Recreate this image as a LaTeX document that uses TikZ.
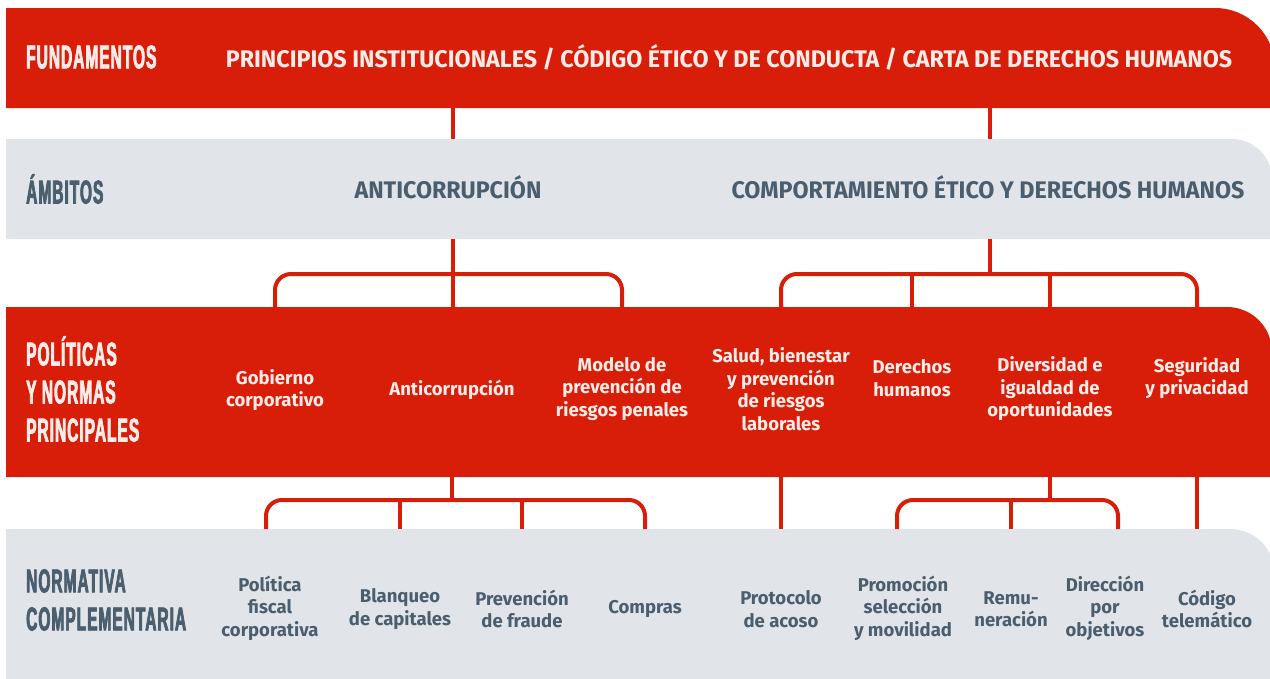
\documentclass[tikz,border=0pt]{standalone}
\usepackage{fontspec}
\setmainfont{Fira Sans}
\newfontfamily\headfont[FakeStretch=0.47, FakeBold=2.2, LetterSpace=3]{Liberation Sans}
\newfontfamily\capsfont[FakeStretch=0.97]{Fira Sans}
\newfontfamily\bodyfont{Fira Sans}
\definecolor{redband}{RGB}{216,30,8}
\definecolor{grayband}{RGB}{225,229,233}
\definecolor{slate}{RGB}{74,94,110}
\definecolor{softwhite}{RGB}{253,236,232}

\begin{document}
\begin{tikzpicture}
[x=1pt, y=-1pt,
link/.style={line width=4pt, draw=redband},
bracket/.style={link, rounded corners=16pt},
head/.style={anchor=west, align=left, inner sep=0pt, font=\headfont\bfseries\fontsize{33}{38}\selectfont},
caps/.style={anchor=base, inner sep=0pt, font=\capsfont\bfseries\fontsize{24}{28}\selectfont},
item/.style={align=center, inner sep=0pt, font=\bodyfont\bfseries\fontsize{18.5}{22.5}\selectfont}]
\useasboundingbox (0,0) rectangle (1270,678);

% bands
\begin{scope}
\clip (0,0) rectangle (1270,678);
\fill[redband] (6,108) -- (6,8) -- (1215,8) arc[start angle=270, end angle=360, radius=60] -- (1275,108) -- cycle;
\fill[grayband] (6,239) -- (6,139) -- (1232,139) arc[start angle=270, end angle=360, radius=40] -- (1272,239) -- cycle;
\fill[redband] (6,477) -- (6,307) -- (1227,307) arc[start angle=270, end angle=360, radius=45] -- (1272,477) -- cycle;
\fill[grayband] (6,690) -- (6,529) -- (1230,529) arc[start angle=270, end angle=360, radius=45] -- (1275,690) -- cycle;
\end{scope}

\coordinate (b1s) at (0,108);
\coordinate (b2n) at (0,139);
\coordinate (b2s) at (0,239);
\coordinate (br1) at (0,274);
\coordinate (b3n) at (0,307);
\coordinate (b3s) at (0,477);
\coordinate (br2) at (0,500);
\coordinate (b4n) at (0,529);

% fundamentos
\node[head, text=softwhite] (fund) at (26,57) {FUNDAMENTOS};
\node[caps, text=softwhite] (fundtxt) at (729,67) {PRINCIPIOS INSTITUCIONALES / CÓDIGO ÉTICO Y DE CONDUCTA / CARTA DE DERECHOS HUMANOS};

% ambitos
\node[head, text=slate] (amb) at (26,189) {ÁMBITOS};
\node[caps, text=slate] (amb1) at (448,198) {ANTICORRUPCIÓN};
\node[caps, text=slate] (amb2) at (988,198) {COMPORTAMIENTO ÉTICO Y DERECHOS HUMANOS};

% politicas
\node[head, text=softwhite] (pol) at (26,389) {POLÍTICAS\\Y NORMAS\\PRINCIPALES};
\node[item, text=softwhite] (pol1) at (275,390) {Gobierno\\corporativo};
\node[item, text=softwhite] (pol2) at (452,390) {Anticorrupción};
\node[item, text=softwhite] (pol3) at (622,389) {Modelo de\\prevención de\\riesgos penales};
\node[item, text=softwhite] (pol4) at (781,389) {Salud, bienestar\\y prevención\\de riesgos\\laborales};
\node[item, text=softwhite] (pol5) at (912,378) {Derechos\\humanos};
\node[item, text=softwhite] (pol6) at (1050,389) {Diversidad e\\igualdad de\\oportunidades};
\node[item, text=softwhite] (pol7) at (1197,378) {Seguridad\\y privacidad};

% normativa
\node[head, text=slate] (norm) at (26,600) {NORMATIVA\\COMPLEMENTARIA};
\node[item, text=slate] (norm1) at (270,608) {Política\\fiscal\\corporativa};
\node[item, text=slate] (norm2) at (400,609) {Blanqueo\\de capitales};
\node[item, text=slate] (norm3) at (522,609) {Prevención\\de fraude};
\node[item, text=slate] (norm4) at (645,609) {Compras};
\node[item, text=slate] (norm5) at (781,609) {Protocolo\\de acoso};
\node[item, text=slate] (norm6) at (903,608) {Promoción\\selección\\y movilidad};
\node[item, text=slate] (norm7) at (1011,609) {Remu-\\neración};
\node[item, text=slate] (norm8) at (1105,608) {Dirección\\por\\objetivos};
\node[item, text=slate] (norm9) at (1207,609) {Código\\telemático};
\coordinate (a1x) at ([xshift=5pt]amb1.base);
\coordinate (a2x) at ([xshift=2pt]amb2.base);
\coordinate (n1x) at ([xshift=-4pt]norm1);
\coordinate (n6x) at ([xshift=-6pt]norm6);
\coordinate (n8x) at ([xshift=13pt]norm8);

% connectors
\draw[link] (a1x |- b1s) -- (a1x |- b2n);
\draw[link] (a2x |- b1s) -- (a2x |- b2n);
\draw[link] (a1x |- b2s) -- (a1x |- b3n);
\draw[bracket] (pol1 |- b3n) -- (pol1 |- br1) -- (pol3 |- br1) -- (pol3 |- b3n);
\draw[link] (a2x |- b2s) -- (a2x |- br1);
\draw[bracket] (pol4 |- b3n) -- (pol4 |- br1) -- (pol7 |- br1) -- (pol7 |- b3n);
\draw[link] (pol5 |- br1) -- (pol5 |- b3n);
\draw[link] (pol6 |- br1) -- (pol6 |- b3n);

\draw[link] (pol2 |- b3s) -- (pol2 |- br2);
\draw[bracket] (n1x |- b4n) -- (n1x |- br2) -- (norm4 |- br2) -- (norm4 |- b4n);
\draw[link] (norm2 |- br2) -- (norm2 |- b4n);
\draw[link] (norm3 |- br2) -- (norm3 |- b4n);
\draw[link] (pol4 |- b3s) -- (norm5 |- b4n);
\draw[link] (pol6 |- b3s) -- (pol6 |- br2);
\draw[bracket] (n6x |- b4n) -- (n6x |- br2) -- (n8x |- br2) -- (n8x |- b4n);
\draw[link] (norm7 |- br2) -- (norm7 |- b4n);
\draw[link] (pol7 |- b3s) -- (pol7 |- b4n);
\end{tikzpicture}
\end{document}
